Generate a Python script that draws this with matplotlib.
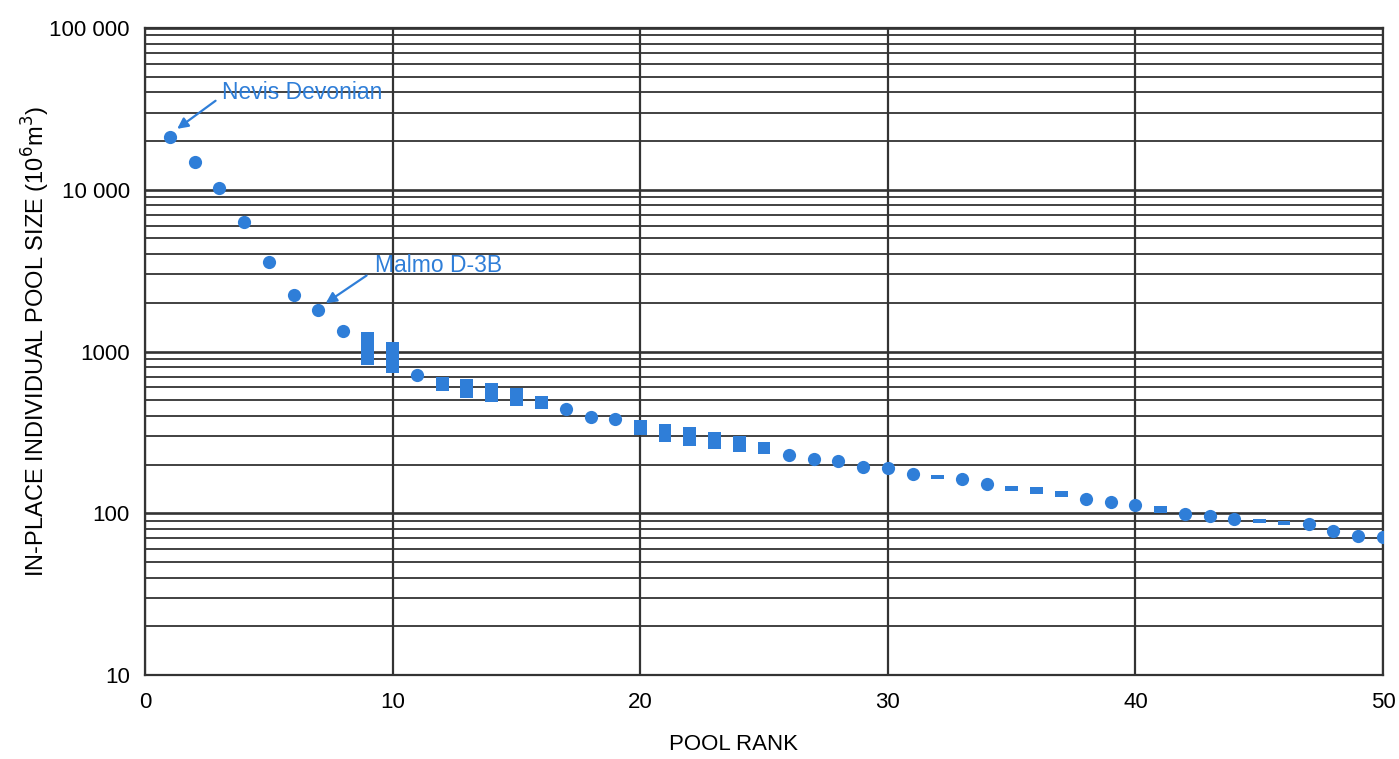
import numpy as np
import matplotlib
matplotlib.use("Agg")
import matplotlib.pyplot as plt
from matplotlib.ticker import FixedLocator, LogLocator, NullFormatter, FixedFormatter

# ---- data ----
circle_rank = [1, 2, 3, 4, 5, 6, 7, 8, 11, 17, 18, 19, 26, 27, 28, 29, 30, 31,
               33, 34, 38, 39, 40, 42, 43, 44, 47, 48, 49, 50]
circle_size = [21200, 14900, 10300, 6300, 3600, 2240, 1800, 1340, 716, 441, 394, 383,
               229, 216, 210, 193, 190, 175, 163, 152, 122, 117, 112, 99, 96, 92,
               86, 78, 72, 71]

range_rank = [9, 10, 12, 13, 14, 15, 16, 20, 21, 22, 23, 24, 25,
              32, 35, 36, 37, 41, 45, 46]
range_high = [1320, 1145, 691, 673, 636, 597, 531, 377, 356, 340, 319, 302, 275,
              172, 148, 145, 138, 111, 92.2, 90]
range_low = [825, 736, 573, 518, 485, 461, 439, 305, 277, 260, 249, 238, 231,
             162, 137, 131.5, 125.5, 101, 87.4, 85]

ytick_vals = [10, 100, 1000, 10000, 100000]
ytick_labels = ["10", "100", "1000", "10 000", "100 000"]
xtick_vals = [0, 10, 20, 30, 40, 50]

labels = ["Nevis Devonian", "Malmo D-3B"]
label_text_xy = [(3.1, 40200), (9.3, 3425)]
label_arrow_from = [(2.85, 35500), (8.95, 2950)]
label_arrow_to = [(1.3, 23800), (7.3, 1990)]

BLUE = "#2f7ed8"
GRID = "#333333"
FONT = ["Liberation Sans", "DejaVu Sans"]

fig = plt.figure(figsize=(13.99, 7.59), dpi=100)
ax = fig.add_axes([145 / 1399, 1 - 675 / 759, (1383 - 145) / 1399, (675 - 28) / 759])
ax.set_yscale("log")
ax.set_xlim(0, 50)
ax.set_ylim(10, 100000)

# grid
ax.yaxis.set_minor_locator(LogLocator(base=10, subs=np.arange(2, 10)))
ax.yaxis.set_minor_formatter(NullFormatter())
ax.yaxis.set_major_locator(FixedLocator(ytick_vals))
ax.yaxis.set_major_formatter(FixedFormatter(ytick_labels))
ax.xaxis.set_major_locator(FixedLocator(xtick_vals))
ax.grid(which="major", axis="y", color=GRID, lw=1.9)
ax.grid(which="minor", axis="y", color=GRID, lw=1.3)
ax.grid(which="major", axis="x", color=GRID, lw=1.6)
ax.set_axisbelow(True)

for s in ax.spines.values():
    s.set_color("#333333")
    s.set_linewidth(1.6)

ax.tick_params(which="both", length=0)
ax.tick_params(axis="y", pad=11)
ax.tick_params(axis="x", pad=12)
for lab in ax.get_xticklabels() + ax.get_yticklabels():
    lab.set_fontfamily(FONT)
    lab.set_fontsize(16)

# marks
ax.plot(circle_rank, circle_size, "o", color=BLUE, ms=9.5, mec="none", zorder=3)
hi = np.array(range_high)
lo = np.array(range_low)
ax.bar(range_rank, hi - lo, bottom=lo, width=0.52, color=BLUE, zorder=3)

# annotations
for t, txy, a0, a1 in zip(labels, label_text_xy, label_arrow_from, label_arrow_to):
    ax.text(txy[0], txy[1], t, color=BLUE, fontsize=16.5, family=FONT,
            ha="left", va="center", zorder=4)
    ax.annotate("", xy=a1, xytext=a0,
                arrowprops=dict(arrowstyle="-|>", color=BLUE, lw=1.6,
                                mutation_scale=16, shrinkA=0, shrinkB=0), zorder=4)

ax.set_xlabel("POOL RANK", fontsize=16, family=FONT, va="center")
ax.xaxis.set_label_coords(0.4755, -0.107)
ax.set_ylabel("IN-PLACE INDIVIDUAL POOL SIZE (10$^{6}$m$^{3}$)", fontsize=17,
              family=FONT, va="center")
ax.yaxis.set_label_coords(-0.0880, 0.515)

fig.savefig("out.png", dpi=100)
